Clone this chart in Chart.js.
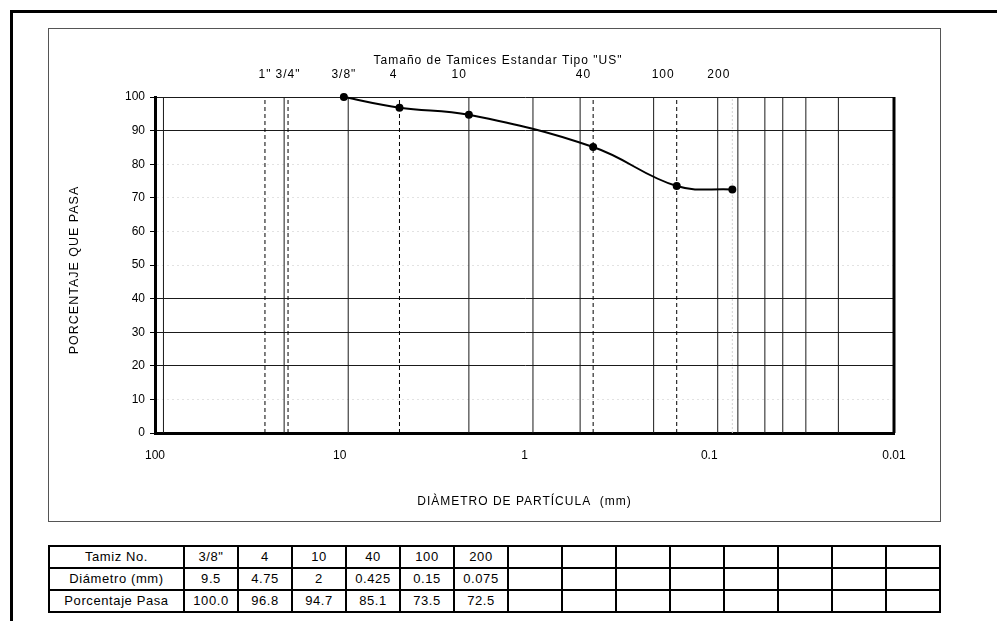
<!DOCTYPE html>
<html><head><meta charset="utf-8">
<script src="https://cdn.jsdelivr.net/npm/chart.js@4"></script>
<style>
html,body{margin:0;padding:0;background:#fff;width:997px;height:621px;overflow:hidden;font-family:"Liberation Sans",Arial,sans-serif;}
#frame{position:absolute;left:10px;top:10px;width:1100px;height:700px;border-top:3px solid #000;border-left:3px solid #000;}
#box{position:absolute;left:48px;top:28px;width:891px;height:492px;border:1px solid #555;}
#wrap{position:absolute;left:0;top:0;width:997px;height:540px;}
table{position:absolute;left:48px;top:545px;border-collapse:collapse;font-size:13px;letter-spacing:0.6px;color:#000;}
td{border:2px solid #000;height:20px;padding:0;text-align:center;line-height:20px;}
td.h{width:133px;}
td.c{width:52px;}
</style></head>
<body>
<div id="frame"></div>
<div id="box"></div>
<div id="wrap"><canvas id="cv" width="997" height="540"></canvas></div>
<table id="tbl"></table>
<script>
// ---- data ----
const sieveNames = ['3/8"', '4', '10', '40', '100', '200'];
const diameterLabels = ['9.5', '4.75', '2', '0.425', '0.15', '0.075'];
const passingLabels = ['100.0', '96.8', '94.7', '85.1', '73.5', '72.5'];
const diameters = [9.5, 4.75, 2, 0.425, 0.15, 0.075];
const passing = [100.0, 96.8, 94.7, 85.1, 73.5, 72.5];
const rowTitles = ['Tamiz No.', 'Diámetro (mm)', 'Porcentaje Pasa'];
const emptyColumns = 8;

const topLabels = ['1"', '3/4"', '3/8"', '4', '10', '40', '100', '200'];
const topLabelDiameters = [25.4, 19.05, 9.5, 4.75, 2, 0.425, 0.15, 0.075];
const dashedLines = [25.4, 19.05, 4.75, 0.425, 0.15];
const faintLines = [0.075];
const solidLines = [90, 20, 9, 2, 0.9, 0.5, 0.2, 0.09, 0.07, 0.05, 0.04, 0.03, 0.02];
const borderLines = [0.01];
const xTicks = [100, 10, 1, 0.1, 0.01];
const xTickLabels = ['100', '10', '1', '0.1', '0.01'];
const yStrong = [0, 20, 30, 40, 90, 100];

const chartTitle = 'Tamaño de Tamices Estandar Tipo "US"';
const xTitle = 'DIÀMETRO DE PARTÍCULA  (mm)';
const yTitle = 'PORCENTAJE QUE PASA';

// ---- table ----
const tbl = document.getElementById('tbl');
[sieveNames, diameterLabels, passingLabels].forEach((row, r) => {
  const tr = document.createElement('tr');
  const th = document.createElement('td'); th.className = 'h'; th.textContent = rowTitles[r]; tr.appendChild(th);
  for (let i = 0; i < row.length + emptyColumns; i++) {
    const td = document.createElement('td'); td.className = 'c'; td.textContent = i < row.length ? row[i] : ''; tr.appendChild(td);
  }
  tbl.appendChild(tr);
});

// ---- chart ----
const FONT = '"Liberation Sans", Arial, sans-serif';
const vline = (v, color, width, dash) => ({
  data: [{x: v, y: 0}, {x: v, y: 100}],
  borderColor: color, borderWidth: width, borderDash: dash,
  pointRadius: 0, tension: 0, fill: false, clip: false, order: 5
});
const datasets = [
  ...solidLines.map(v => vline(v, '#1a1a1a', 1, [])),
  ...dashedLines.map(v => vline(v, '#000', 1, [4, 3])),
  ...faintLines.map(v => vline(v, '#d4d4d4', 1, [2, 2])),
  ...borderLines.map(v => vline(v, '#000', 3, [])),
  {
    data: diameters.map((d, i) => ({x: d, y: passing[i]})),
    borderColor: '#000', borderWidth: 2, backgroundColor: '#000',
    pointRadius: 3, pointBackgroundColor: '#000', pointBorderColor: '#000',
    tension: 0.4, clip: false, order: 0
  }
];

const textPlugin = {
  id: 'texts',
  afterDraw(chart) {
    const ctx = chart.ctx, a = chart.chartArea, xs = chart.scales.x;
    ctx.save();
    ctx.fillStyle = '#000';
    ctx.letterSpacing = '1px';
    ctx.textBaseline = 'middle';
    ctx.font = '12px ' + FONT;
    ctx.textAlign = 'center';
    ctx.fillText(chartTitle, a.left + 343, a.top - 36);
    topLabels.forEach((t, i) => {
      const px = xs.getPixelForValue(topLabelDiameters[i]);
      if (t.includes('"')) { ctx.textAlign = 'center'; ctx.fillText(t, px, a.top - 22); }
      else { ctx.textAlign = 'right'; ctx.fillText(t, px - 2, a.top - 22); }
    });
    ctx.textAlign = 'center';
    ctx.fillText(xTitle, (a.left + a.right) / 2, a.bottom + 69);
    ctx.translate(a.left - 80, (a.top + a.bottom) / 2 + 5);
    ctx.rotate(-Math.PI / 2);
    ctx.font = '12.5px ' + FONT;
    ctx.fillText(yTitle, 0, 0);
    ctx.restore();
  }
};

new Chart(document.getElementById('cv'), {
  type: 'line',
  data: {datasets},
  options: {
    responsive: false, animation: false, events: [],
    layout: {padding: {left: 95, right: 103, top: 97, bottom: 67}},
    plugins: {legend: {display: false}, tooltip: {enabled: false}},
    scales: {
      x: {
        type: 'logarithmic', reverse: true, min: 0.01, max: 100, position: 'bottom',
        afterBuildTicks: s => { s.ticks = xTicks.map(v => ({value: v})); },
        afterFit: s => { s.height = 40; },
        grid: {display: false},
        border: {display: true, color: '#000', width: 3},
        ticks: {
          autoSkip: false, maxRotation: 0, padding: 7, color: '#000',
          font: {size: 12, family: FONT},
          callback: (v, i) => xTickLabels[i]
        }
      },
      y: {
        min: 0, max: 100,
        afterFit: s => { s.width = 60; },
        ticks: {stepSize: 10, padding: 5, color: '#000', font: {size: 12, family: FONT}},
        grid: {
          color: c => (c.tick && yStrong.includes(c.tick.value)) ? '#1a1a1a' : '#e2e2e2',
          tickColor: '#000', tickLength: 5, lineWidth: 1
        },
        border: {
          display: true, color: '#000', width: 3,
          dash: c => (c.tick && !yStrong.includes(c.tick.value)) ? [2, 3] : []
        }
      }
    }
  },
  plugins: [textPlugin]
});
</script>
</body></html>
